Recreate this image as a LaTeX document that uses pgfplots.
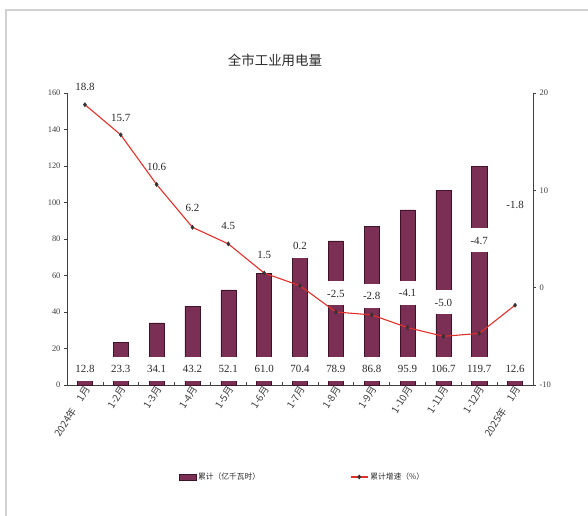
\documentclass[border=0pt]{standalone}
\usepackage{fontspec}
\setmainfont{Liberation Serif}
\newfontfamily\cjk{Noto Sans CJK SC}
\usepackage{pgfplots}
\pgfplotsset{compat=1.18}
\usepackage{pgfplotstable}

\definecolor{barfill}{HTML}{7B2F55}
\definecolor{baredge}{HTML}{3E1428}
\definecolor{linered}{HTML}{E2312B}
\definecolor{axisgray}{HTML}{404040}
\definecolor{txt}{HTML}{2A2A2A}

% cumulative consumption (100 million kWh), label row position on left axis
\pgfplotstableread{
x val lab ly
0 12.8 12.8 8.75
1 23.3 23.3 8.75
2 34.1 34.1 8.75
3 43.2 43.2 8.75
4 52.1 52.1 8.75
5 61.0 61.0 8.75
6 70.4 70.4 8.75
7 78.9 78.9 8.75
8 86.8 86.8 8.75
9 95.9 95.9 8.75
10 106.7 106.7 8.75
11 119.7 119.7 8.75
12 12.6 12.6 8.75
}\bars

% cumulative growth (%), label position on right axis
\pgfplotstableread{
x rate lab ly
0 18.8 18.8 20.6
1 15.7 15.7 17.5
2 10.6 10.6 12.4
3 6.2 6.2 8.2
4 4.5 4.5 6.4
5 1.5 1.5 3.4
6 0.2 0.2 4.3
7 -2.5 -2.5 -0.6
8 -2.8 -2.8 -0.85
9 -4.1 -4.1 -0.5
10 -5.0 -5.0 -1.5
11 -4.7 -4.7 4.85
12 -1.8 -1.8 8.5
}\rates

\pgfplotsset{
  base/.style={
    scale only axis, width=466bp, height=292bp,
    at={(67bp,131bp)}, anchor=south west,
    xmin=-0.5, xmax=12.5, clip=false,
    axis line style={axisgray, line width=0.8bp},
    tick style={axisgray, line width=0.6bp},
    major tick length=3bp,
    tick label style={font=\fontsize{8.5}{9}\selectfont, text=axisgray},
    /pgf/number format/assume math mode=true,
  },
  labelbox/.style={
    draw=none, mark=none, forget plot,
    nodes near coords, point meta=explicit symbolic,
    every node near coord/.append style={
      fill=white, anchor=center, inner xsep=1.2bp, inner ysep=8.25bp,
      text height=7.5bp, text depth=0bp, text=txt,
      font=\fontsize{11}{12}\selectfont},
  },
}

\begin{document}
\begin{tikzpicture}[x=1bp,y=1bp]
\path[use as bounding box] (0,0) rectangle (588,516);
\draw[black!18, line width=1.2bp] (6,0) -- (6,506) -- (588,506);
\node[font=\cjk\fontsize{13.5}{15}\selectfont, text=txt] at (275,456) {全市工业用电量};

% bars with their value row
\begin{axis}[base,
  axis x line*=bottom, axis y line*=left,
  ymin=0, ymax=160, ytick={0,20,...,160}, ytick align=outside,
  xtick={-0.5,0.5,...,12.5}, xtick align=inside,
  x tick label as interval,
  xticklabels={2024年\hspace{1em}1月, 1-2月, 1-3月, 1-4月, 1-5月, 1-6月,
    1-7月, 1-8月, 1-9月, 1-10月, 1-11月, 1-12月, 2025年\hspace{1em}1月},
  x tick label style={rotate=58, anchor=east, xshift=3bp, yshift=-3bp,
    font=\cjk\fontsize{10}{11}\selectfont},
]
\addplot[ybar, bar width=0.42, fill=barfill, draw=baredge, line width=0.5bp]
  table[x=x, y=val] {\bars};
\addplot[labelbox] table[x=x, y=ly, meta=lab] {\bars};
\end{axis}

% right axis and growth labels
\begin{axis}[base,
  axis y line*=right, axis x line=none,
  ymin=-10, ymax=20, ytick={-10,0,10,20}, ytick align=outside,
]
\addplot[labelbox] table[x=x, y=ly, meta=lab] {\rates};
\end{axis}

% growth line on top, with the legend
\begin{axis}[base, hide axis,
  ymin=-10, ymax=20,
  legend style={at={(0.505,-0.315)}, anchor=center, draw=none, fill=none,
    font=\cjk\fontsize{7.8}{8}\selectfont, text=txt,
    /tikz/every even column/.append style={column sep=88bp}},
  legend columns=2, legend cell align=left,
]
\addlegendimage{area legend, fill=barfill, draw=baredge}
\addlegendentry{累计（亿千瓦时）}
\addplot[linered, line width=1.1bp, mark=diamond*, mark size=1.6bp,
  mark options={fill=black!80, draw=black!80}]
  table[x=x, y=rate] {\rates};
\addlegendentry{累计增速（\%）}
\end{axis}
\end{tikzpicture}
\end{document}
